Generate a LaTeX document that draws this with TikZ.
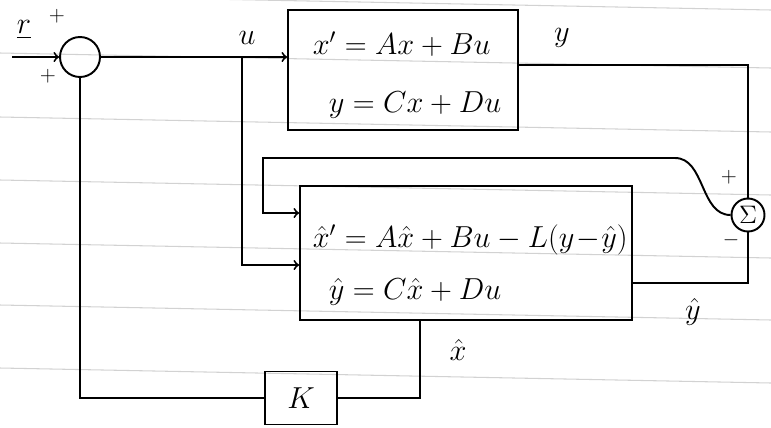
\documentclass[tikz,border=0pt]{standalone}
\usepackage{amsmath}
\usepackage{amssymb}
\begin{document}
\begin{tikzpicture}[x=0.02cm, y=-0.02cm, line width=1.1pt,
    block/.style={rectangle, draw},
    junction/.style={circle, draw, inner sep=0pt},
    lbl/.style={font=\LARGE},
    sgn/.style={font=\large},
    rule/.style={gray!35, line width=0.6pt}]
    \useasboundingbox (0,0) rectangle (771,427);
    \foreach \yy in {-5,53,117,180,243,305,368,430}
        \draw[rule] (0,\yy) -- (771,\yy+15);
    \node[junction, minimum size=0.8cm] (sum) at (80,57) {};
    \node[block, minimum width=4.6cm, minimum height=2.4cm] (plant) at (403,70) {};
    \node[lbl, anchor=west] (pl1) at (306,44) {$x' = Ax+Bu$};
    \node[lbl, anchor=west] (pl2) at (322,105) {$y = Cx+Du$};
    \node[block, minimum width=6.64cm, minimum height=2.68cm] (obs) at (466,253) {};
    \node[lbl, anchor=west] (ob1) at (306,240) {$\hat{x}' = A\hat{x}+Bu-L(y\!-\!\hat{y})$};
    \node[lbl, anchor=west] (ob2) at (322,292) {$\hat{y} = C\hat{x}+Du$};
    \node[block, minimum width=1.44cm, minimum height=1.06cm] (gain) at (301,398) {\LARGE $K$};
    \node[junction, minimum size=0.66cm] (sig) at (748,215) {\Large $\Sigma$};
    \coordinate (rin) at (12,57);
    \coordinate (ubr) at (242,57);
    \draw[->] (rin) -- (sum);
    \draw[->] (sum) -- (sum -| plant.west);
    \draw[->] (ubr) |- (obs.west |- 0,265);
    \draw (plant.east |- 0,65) -| (sig);
    \draw (obs.east |- 0,283) -| (sig);
    \draw[->] (sig) .. controls (700,215) and (705,158) .. (675,158) -- (263,158) |- (obs.west |- 0,213);
    \draw (obs.south -| 420,0) |- (gain);
    \draw (gain) -| (sum);
    \node[lbl] (rlab) at (24,30) {$\underline{r}$};
    \node[sgn] (sp1) at (57,16) {$+$};
    \node[sgn] (sp2) at (48,76) {$+$};
    \node[lbl] (ulab) at (247,38) {$u$};
    \node[lbl] (ylab) at (562,38) {$y$};
    \node[sgn] (sp3) at (729,177) {$+$};
    \node[sgn] (sm3) at (731,240) {$-$};
    \node[lbl] (yhlab) at (693,312) {$\hat{y}$};
    \node[lbl] (xhlab) at (458,350) {$\hat{x}$};
\end{tikzpicture}
\end{document}
